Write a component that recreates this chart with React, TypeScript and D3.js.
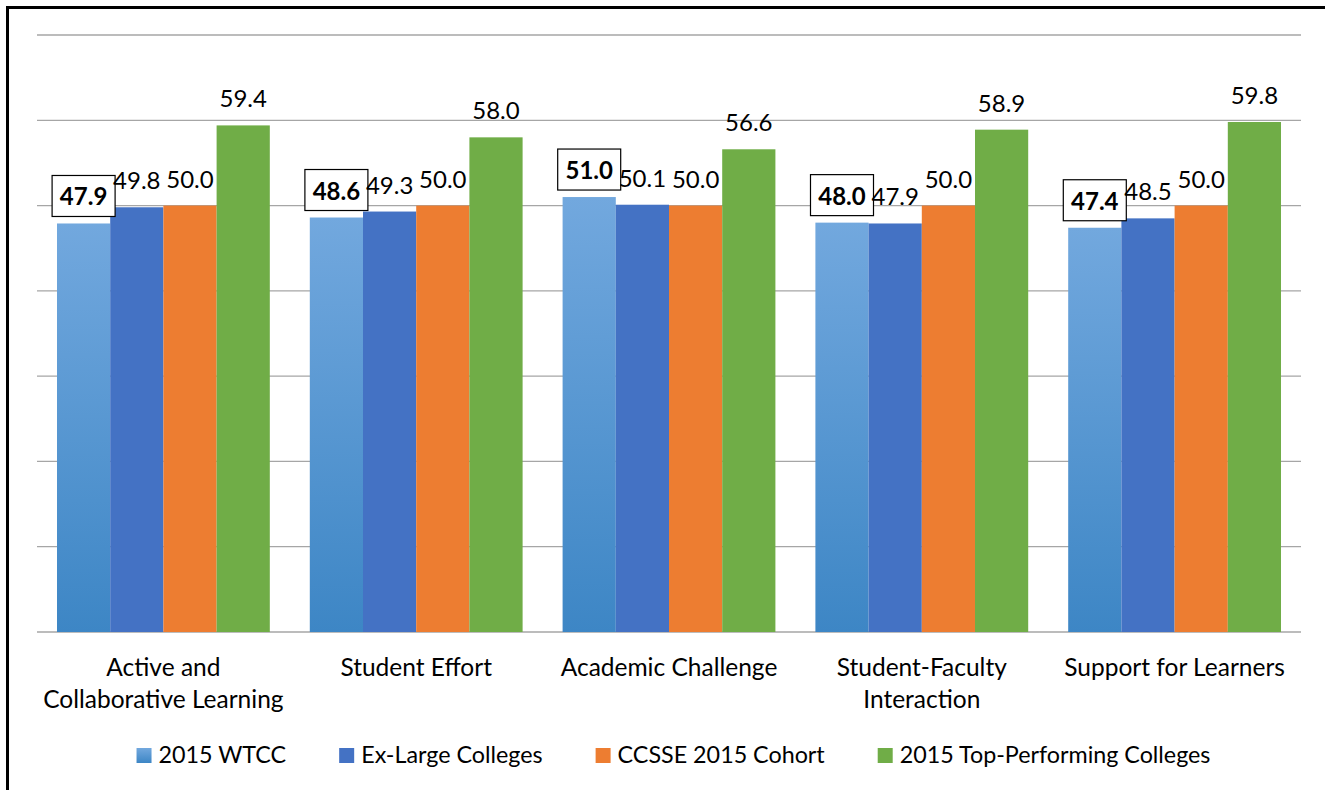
import React, { useEffect, useRef } from "react";
import * as d3 from "d3";

const categories = [
  "Active and\nCollaborative Learning",
  "Student Effort",
  "Academic Challenge",
  "Student-Faculty\nInteraction",
  "Support for Learners",
];
const seriesNames = ["2015 WTCC", "Ex-Large Colleges", "CCSSE 2015 Cohort", "2015 Top-Performing Colleges"];
const wtcc = [47.9, 48.6, 51.0, 48.0, 47.4];
const exLarge = [49.8, 49.3, 50.1, 47.9, 48.5];
const cohort = [50.0, 50.0, 50.0, 50.0, 50.0];
const topPerforming = [59.4, 58.0, 56.6, 58.9, 59.8];
const yTicks = [0, 10, 20, 30, 40, 50, 60, 70];

const W = 1325;
const H = 790;
const FONT = "Lato, 'Open Sans', sans-serif";
const fills = ["url(#wtccGrad)", "#4472c4", "#ed7d31", "#70ad47"];

export default function App() {
  const ref = useRef<SVGSVGElement | null>(null);

  useEffect(() => {
    const svg = d3.select(ref.current);
    svg.selectAll("*").remove();

    const defs = svg.append("defs");
    const g = defs.append("linearGradient").attr("id", "wtccGrad").attr("x1", 0).attr("y1", 0).attr("x2", 0).attr("y2", 1);
    g.append("stop").attr("offset", "0%").attr("stop-color", "#72a8de");
    g.append("stop").attr("offset", "100%").attr("stop-color", "#3d86c5");

    svg.append("rect").attr("x", 0).attr("y", 0).attr("width", W).attr("height", H).attr("fill", "#fff");
    svg.append("rect").attr("x", 7.5).attr("y", 7.5).attr("width", W + 20).attr("height", H + 20)
      .attr("fill", "none").attr("stroke", "#000").attr("stroke-width", 3);

    const x0 = d3.scaleBand<string>().domain(categories).range([37, 1301]).padding(0);
    const bw = x0.bandwidth();
    const x1 = d3.scaleBand<string>().domain(seriesNames).range([bw * 0.0791, bw * 0.9209]).padding(0);
    const y = d3.scaleLinear().domain([0, 70]).range([632, 35]);

    svg.append("g").selectAll("line").data(yTicks).join("line")
      .attr("x1", 37).attr("x2", 1301)
      .attr("y1", (d) => y(d)).attr("y2", (d) => y(d))
      .attr("stroke", "#a6a6a6").attr("stroke-width", 1.3);

    const seriesData = [wtcc, exLarge, cohort, topPerforming];
    const rows = categories.map((c, i) => ({ c, vals: seriesData.map((s) => s[i]) }));

    const groups = svg.append("g").selectAll("g").data(rows).join("g")
      .attr("transform", (d) => `translate(${x0(d.c)},0)`);

    groups.selectAll("rect").data((d) => d.vals.map((v, k) => ({ v, k })))
      .join("rect")
      .attr("x", (d) => x1(seriesNames[d.k])!)
      .attr("width", x1.bandwidth())
      .attr("y", (d) => y(d.v))
      .attr("height", (d) => y(0) - y(d.v))
      .attr("fill", (d) => fills[d.k]);

    // labels
    groups.each(function (d) {
      const gg = d3.select(this);
      d.vals.forEach((v, k) => {
        const cx = x1(seriesNames[k])! + x1.bandwidth() / 2;
        const by = y(v) - 18;
        if (k === 0) {
          gg.append("rect").attr("x", cx - 31.5).attr("y", by - 30).attr("width", 63).attr("height", 41)
            .attr("fill", "#fff").attr("stroke", "#000").attr("stroke-width", 1.2);
        }
        gg.append("text").attr("x", cx).attr("y", by)
          .attr("text-anchor", "middle").attr("font-family", FONT)
          .attr("font-size", 24).attr("font-weight", k === 0 ? 700 : 400)
          .attr("fill", "#000").text(v.toFixed(1));
      });
    });

    // category labels
    categories.forEach((c) => {
      const lines = c.split("\n");
      const t = svg.append("text").attr("text-anchor", "middle").attr("font-family", FONT)
        .attr("font-size", 24.5).attr("fill", "#000");
      lines.forEach((ln, i) => {
        t.append("tspan").attr("x", x0(c)! + bw / 2).attr("y", 676 + i * 32).text(ln);
      });
    });

    // legend
    const leg = svg.append("g");
    const items: { g: any; w: number }[] = [];
    seriesNames.forEach((s, k) => {
      const ig = leg.append("g");
      ig.append("rect").attr("x", 0).attr("y", 748).attr("width", 15).attr("height", 15).attr("fill", fills[k]);
      const tx = ig.append("text").attr("x", 22).attr("y", 763).attr("font-family", FONT)
        .attr("font-size", 23.3).attr("fill", "#000").text(s);
      const tw = (tx.node() as SVGTextElement).getComputedTextLength();
      items.push({ g: ig, w: 22 + tw });
    });
    const gap = 53;
    const total = items.reduce((a, b) => a + b.w, 0) + gap * (items.length - 1);
    let cur = 673.5 - total / 2;
    items.forEach((it) => {
      it.g.attr("transform", `translate(${cur},0)`);
      cur += it.w + gap;
    });
  }, []);

  return (
    <svg ref={ref} width={W} height={H}
      style={{ position: "absolute", left: 0, top: 0, display: "block" }} />
  );
}
